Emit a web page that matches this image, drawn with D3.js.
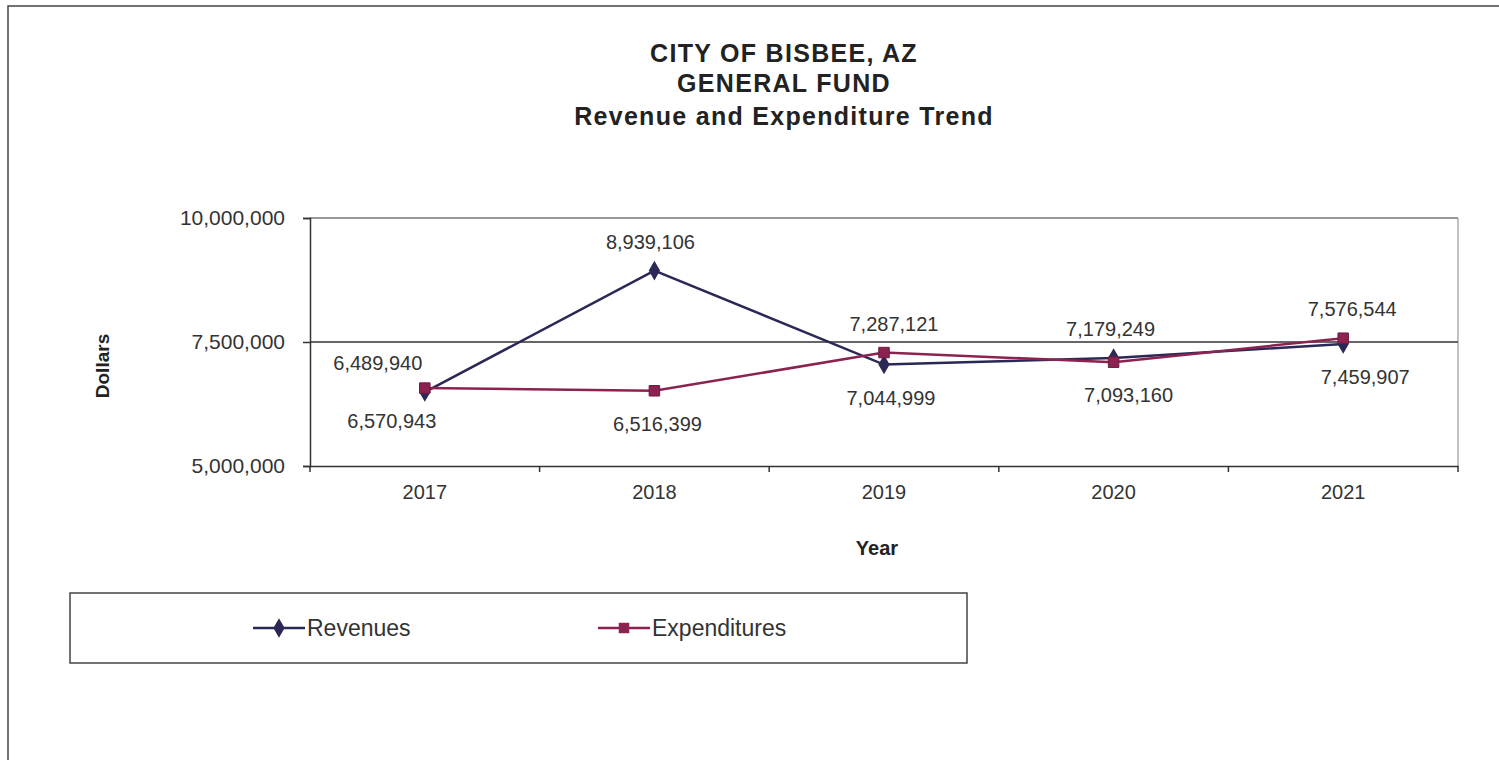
<!DOCTYPE html>
<html>
<head>
<meta charset="utf-8">
<script src="https://cdn.jsdelivr.net/npm/d3@7"></script>
<style>
  body { margin: 0; background: #fff; }
  svg { display: block; font-family: "Liberation Sans", Arial, sans-serif; }
</style>
</head>
<body>
<svg id="chart" width="1499" height="760"></svg>
<script>
// data
const years = ["2017", "2018", "2019", "2020", "2021"];
const revenues = [6489940, 8939106, 7044999, 7179249, 7459907];
const expenditures = [6570943, 6516399, 7287121, 7093160, 7576544];
const yTicks = [5000000, 7500000, 10000000];
const titleLines = ["CITY OF BISBEE, AZ", "GENERAL FUND", "Revenue and Expenditure Trend"];

// where each data label sits (1 = above the point, -1 = below)
const revLabelSide = [1, 1, -1, 1, -1];
const expLabelSide = [-1, -1, 1, -1, 1];
const revLabelDx = [-47, -4, 7, -3, 22];
const expLabelDx = [-33, 3, 10, 15, 9];

let svg = d3.select("#chart");

// outer frame (runs off the right/bottom of the page)
svg.append("rect")
    .attr("x", 8).attr("y", 6)
    .attr("width", 1520).attr("height", 800)
    .style("fill", "none")
    .style("stroke", "#444")
    .style("stroke-width", 1.5);

// title
svg.append("g").selectAll("text")
    .data(titleLines)
    .join("text")
    .attr("x", 784)
    .attr("y", (d, i) => [62, 92, 125][i])
    .attr("text-anchor", "middle")
    .style("font-weight", "bold")
    .style("font-size", "25px")
    .style("letter-spacing", "1.3px")
    .style("fill", "#222")
    .text(d => d);

const pLeft = 310, pRight = 1458, pTop = 218, pBottom = 466;

let x = d3.scaleBand()
    .domain(years)
    .range([pLeft, pRight]);

let y = d3.scaleLinear()
    .domain([5000000, 10000000])
    .range([pBottom, pTop]);

// plot border: top + right are light, 7.5M gridline dark
svg.append("line")
    .attr("x1", pLeft).attr("x2", pRight)
    .attr("y1", pTop).attr("y2", pTop)
    .style("stroke", "#777").style("stroke-width", 1.5);
svg.append("line")
    .attr("x1", pRight).attr("x2", pRight)
    .attr("y1", pTop).attr("y2", pBottom)
    .style("stroke", "#999").style("stroke-width", 1.2);

svg.append("g").selectAll("line")
    .data(yTicks.filter(d => d > 5000000 && d < 10000000))
    .join("line")
    .attr("x1", pLeft).attr("x2", pRight)
    .attr("y1", d => y(d)).attr("y2", d => y(d))
    .style("stroke", "#333").style("stroke-width", 1.5);

// y axis
let yAxis = svg.append("g")
    .attr("transform", `translate(${pLeft},0)`)
    .call(d3.axisLeft(y).tickValues(yTicks).tickSize(7).tickPadding(18)
        .tickFormat(d3.format(",")));
yAxis.select(".domain").style("stroke", "#333").style("stroke-width", 1.5);
yAxis.selectAll(".tick line").style("stroke", "#333").style("stroke-width", 1.5);
yAxis.selectAll("text")
    .style("font-size", "21px")
    .style("fill", "#333")
    .style("font-family", "Liberation Sans, Arial, sans-serif");

// x axis (ticks between categories, like Excel)
let xAxis = svg.append("g")
    .attr("transform", `translate(0,${pBottom})`)
    .call(d3.axisBottom(x).tickSize(0).tickPadding(19));
xAxis.select(".domain").style("stroke", "#333").style("stroke-width", 1.5);
xAxis.selectAll("text")
    .style("font-size", "20px")
    .style("fill", "#333")
    .style("font-family", "Liberation Sans, Arial, sans-serif");

svg.append("g").selectAll("line")
    .data(years.concat(["end"]))
    .join("line")
    .attr("x1", (d, i) => pLeft + i * x.step())
    .attr("x2", (d, i) => pLeft + i * x.step())
    .attr("y1", pBottom).attr("y2", pBottom + 6)
    .style("stroke", "#333").style("stroke-width", 1.5);

// axis titles
svg.append("text")
    .attr("transform", "translate(109,366) rotate(-90)")
    .attr("text-anchor", "middle")
    .style("font-weight", "bold")
    .style("font-size", "19px")
    .style("fill", "#222")
    .text("Dollars");

svg.append("text")
    .attr("x", 877).attr("y", 555)
    .attr("text-anchor", "middle")
    .style("font-weight", "bold")
    .style("font-size", "20px")
    .style("fill", "#222")
    .text("Year");

const revColor = "#2a2856";
const expColor = "#8c2250";

let line = d3.line()
    .x((d, i) => x(years[i]) + x.bandwidth() / 2)
    .y(d => y(d));

let diamond = d3.symbol().type(d3.symbolDiamond).size(110);
let square = d3.symbol().type(d3.symbolSquare).size(110);

svg.append("path")
    .datum(revenues)
    .attr("d", line)
    .style("fill", "none")
    .style("stroke", revColor)
    .style("stroke-width", 2.5);

svg.append("path")
    .datum(expenditures)
    .attr("d", line)
    .style("fill", "none")
    .style("stroke", expColor)
    .style("stroke-width", 2.5);

svg.append("g").selectAll("path")
    .data(revenues)
    .join("path")
    .attr("d", diamond)
    .attr("transform", (d, i) => `translate(${x(years[i]) + x.bandwidth() / 2},${y(d)})`)
    .style("fill", revColor);

svg.append("g").selectAll("path")
    .data(expenditures)
    .join("path")
    .attr("d", square)
    .attr("transform", (d, i) => `translate(${x(years[i]) + x.bandwidth() / 2},${y(d)})`)
    .style("fill", expColor)
    .style("stroke", "#6e1a3e");

// data labels
function addLabels(values, side, dx) {
    svg.append("g").selectAll("text")
        .data(values)
        .join("text")
        .attr("x", (d, i) => x(years[i]) + x.bandwidth() / 2 + dx[i])
        .attr("y", (d, i) => y(d) + (side[i] > 0 ? -22 : 40))
        .attr("text-anchor", "middle")
        .style("font-size", "20px")
        .style("fill", "#333")
        .text(d => d3.format(",")(d));
}
addLabels(revenues, revLabelSide, revLabelDx);
addLabels(expenditures, expLabelSide, expLabelDx);

// legend
let legend = svg.append("g");
legend.append("rect")
    .attr("x", 70).attr("y", 593)
    .attr("width", 897).attr("height", 70)
    .style("fill", "none")
    .style("stroke", "#444")
    .style("stroke-width", 1.5);

let legendItems = [
    { name: "Revenues", color: revColor, sym: diamond, x0: 253 },
    { name: "Expenditures", color: expColor, sym: square, x0: 598 }
];
let li = legend.selectAll("g.item")
    .data(legendItems)
    .join("g")
    .attr("class", "item")
    .attr("transform", d => `translate(${d.x0},628)`);
li.append("line")
    .attr("x1", 0).attr("x2", 52)
    .attr("y1", 0).attr("y2", 0)
    .style("stroke", d => d.color)
    .style("stroke-width", 2.5);
li.append("path")
    .attr("d", d => d.sym())
    .attr("transform", "translate(26,0)")
    .style("fill", d => d.color);
li.append("text")
    .attr("x", 54).attr("y", 8)
    .style("font-size", "23px")
    .style("fill", "#333")
    .text(d => d.name);
</script>
</body>
</html>
